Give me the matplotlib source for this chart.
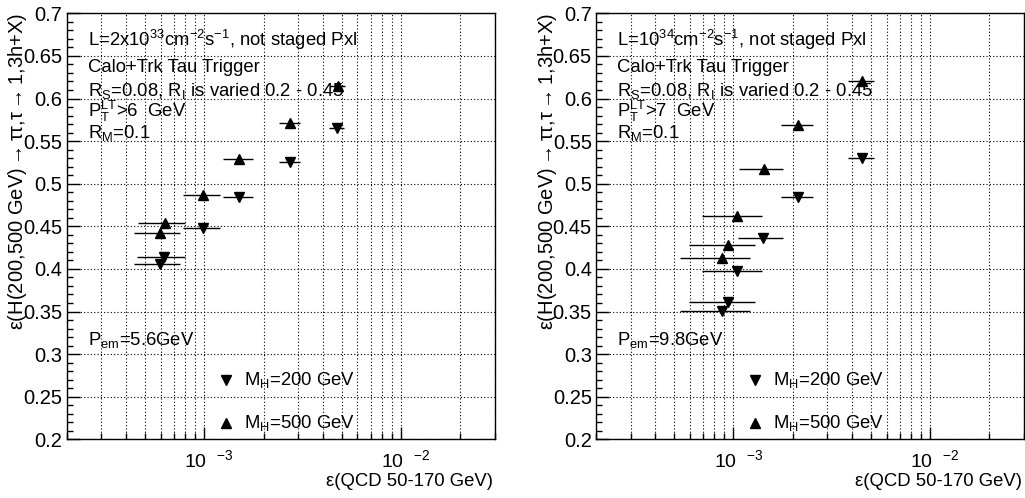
import matplotlib
matplotlib.use("Agg")
import matplotlib.pyplot as plt
import numpy as np

plt.rcParams['font.family'] = ['Liberation Sans', 'DejaVu Sans']
plt.rcParams['mathtext.fontset'] = 'custom'
plt.rcParams['mathtext.rm'] = 'Liberation Sans'
plt.rcParams['mathtext.it'] = 'Liberation Sans'
plt.rcParams['mathtext.bf'] = 'Liberation Sans'

# ---------------- data ----------------
# Left panel (L=2x10^33)
left_x_500 = [5.97e-4, 6.28e-4, 9.9e-4, 1.51e-3, 2.72e-3, 4.78e-3]
left_y_500 = [0.4418, 0.4535, 0.487, 0.5287, 0.5709, 0.6147]
left_xerr_500 = [1.6e-4, 1.7e-4, 2.1e-4, 2.6e-4, 3.3e-4, 4.2e-4]
left_x_200 = [5.97e-4, 6.26e-4, 9.9e-4, 1.51e-3, 2.72e-3, 4.72e-3]
left_y_200 = [0.4058, 0.4143, 0.4477, 0.4844, 0.5258, 0.5657]
left_xerr_200 = [1.6e-4, 1.7e-4, 2.1e-4, 2.6e-4, 3.3e-4, 4.2e-4]

# Right panel (L=10^34)
right_x_500 = [8.72e-4, 9.43e-4, 1.04e-3, 1.43e-3, 2.14e-3, 4.51e-3]
right_y_500 = [0.4131, 0.4277, 0.4624, 0.5169, 0.5689, 0.6205]
right_xerr_500 = [3.4e-4, 3.5e-4, 3.5e-4, 3.6e-4, 4.0e-4, 6.8e-4]
right_x_200 = [8.72e-4, 9.43e-4, 1.04e-3, 1.42e-3, 2.14e-3, 4.51e-3]
right_y_200 = [0.351, 0.3615, 0.3972, 0.4366, 0.4848, 0.5298]
right_xerr_200 = [3.4e-4, 3.5e-4, 3.5e-4, 3.6e-4, 4.0e-4, 6.8e-4]

left_texts = [r"L=2x10$^{33}$cm$^{-2}$s$^{-1}$, not staged Pxl",
              "Calo+Trk Tau Trigger",
              r"R$_{S}$=0.08, R$_{I}$ is varied 0.2 - 0.45",
              r"P$_{T}^{LT}$>6  GeV",
              r"R$_{M}$=0.1"]
right_texts = [r"L=10$^{34}$cm$^{-2}$s$^{-1}$, not staged Pxl",
               "Calo+Trk Tau Trigger",
               r"R$_{S}$=0.08, R$_{I}$ is varied 0.2 - 0.45",
               r"P$_{T}^{LT}$>7  GeV",
               r"R$_{M}$=0.1"]
left_pem = r"P$_{em}$=5.6GeV"
right_pem = r"P$_{em}$=9.8GeV"
legend_labels = [r"M$_{H}$=200 GeV", r"M$_{H}$=500 GeV"]
xlabel = r"ε(QCD 50-170 GeV)"
ylabel = r"ε(H(200,500 GeV)$\rightarrow$ττ,τ$\rightarrow$1,3h+X)"
yticks = [0.2, 0.25, 0.3, 0.35, 0.4, 0.45, 0.5, 0.55, 0.6, 0.65, 0.7]
ytick_labels = ["0.2", "0.25", "0.3", "0.35", "0.4", "0.45", "0.5", "0.55", "0.6", "0.65", "0.7"]
xticks = [1e-3, 1e-2]
xtick_labels = [r"10  $^{-3}$", r"10  $^{-2}$"]

W, H = 1025, 498
fig = plt.figure(figsize=(W / 100, H / 100), dpi=100)

def px_axes(x0, x1, y0, y1):
    return fig.add_axes([x0 / W, 1 - y1 / H, (x1 - x0) / W, (y1 - y0) / H])

XMIN, XMAX = 2e-4, 3e-2
FS = 13.3

def setup(ax, texts, pem, data):
    ax.set_xscale('log')
    ax.set_xlim(XMIN, XMAX)
    ax.set_ylim(0.2, 0.7)
    ax.set_yticks(yticks)
    ax.set_yticklabels(ytick_labels)
    ax.set_yticks(np.arange(0.2, 0.7001, 0.01), minor=True)
    ax.set_xticks(xticks)
    ax.set_xticklabels(xtick_labels)
    ax.xaxis.set_minor_locator(matplotlib.ticker.LogLocator(base=10, subs=np.arange(2, 10), numticks=20))
    ax.xaxis.set_minor_formatter(matplotlib.ticker.NullFormatter())
    ax.tick_params(which='major', direction='in', length=9, width=1, labelsize=14.5, pad=3, top=False, right=False)
    ax.tick_params(which='minor', direction='in', length=4.5, width=1, top=False, right=False)
    ax.tick_params(axis='x', which='major', pad=7, labelsize=14)
    for lbl in ax.get_xticklabels():
        lbl.set_horizontalalignment('left')
        lbl.set_x(0)
    ax.grid(True, which='major', axis='y', color='black', linestyle=(0, (1, 2)), linewidth=0.8)
    ax.grid(True, which='both', axis='x', color='black', linestyle=(0, (1, 2)), linewidth=0.8)
    for s in ax.spines.values():
        s.set_linewidth(1)
    (x5, y5, e5, x2, y2, e2) = data
    ax.errorbar(x2, y2, xerr=e2, fmt='v', color='black', ms=6.5, elinewidth=1, capsize=0, zorder=3)
    ax.errorbar(x5, y5, xerr=e5, fmt='^', color='black', ms=6.5, elinewidth=1, capsize=0, zorder=3)
    tys = [0.937, 0.872, 0.818, 0.769, 0.719]
    for t, yy in zip(texts, tys):
        ax.text(0.05, yy, t, transform=ax.transAxes, fontsize=FS, va='center', ha='left')
    ax.text(0.05, 0.233, pem, transform=ax.transAxes, fontsize=FS, va='center', ha='left')
    ax.plot([0.372], [0.139], marker='v', color='black', ms=6.5, transform=ax.transAxes, ls='none')
    ax.plot([0.372], [0.039], marker='^', color='black', ms=6.5, transform=ax.transAxes, ls='none')
    ax.text(0.414, 0.139, legend_labels[0], transform=ax.transAxes, fontsize=FS, va='center', ha='left')
    ax.text(0.414, 0.039, legend_labels[1], transform=ax.transAxes, fontsize=FS, va='center', ha='left')
    ax.text(0.995, -0.1, xlabel, transform=ax.transAxes, fontsize=13.3, va='center', ha='right')
    ax.text(-0.114, 1.0, ylabel, transform=ax.transAxes, fontsize=14.5, rotation=90, va='top', ha='center')

ax1 = px_axes(66.7, 495.0, 13.3, 439.3)
setup(ax1, left_texts, left_pem,
      (left_x_500, left_y_500, left_xerr_500, left_x_200, left_y_200, left_xerr_200))
ax2 = px_axes(596.0, 1024.0, 13.3, 439.3)
setup(ax2, right_texts, right_pem,
      (right_x_500, right_y_500, right_xerr_500, right_x_200, right_y_200, right_xerr_200))

# shift x tick labels so that "10" ends at the tick (ROOT style)
fig.canvas.draw()
import matplotlib.transforms as mtransforms
for ax in (ax1, ax2):
    for lbl in ax.get_xticklabels():
        lbl.set_horizontalalignment('center')
        lbl.set_transform(lbl.get_transform() + mtransforms.ScaledTranslation(5 / 100, 0, fig.dpi_scale_trans))

fig.savefig("out.png", dpi=100)
